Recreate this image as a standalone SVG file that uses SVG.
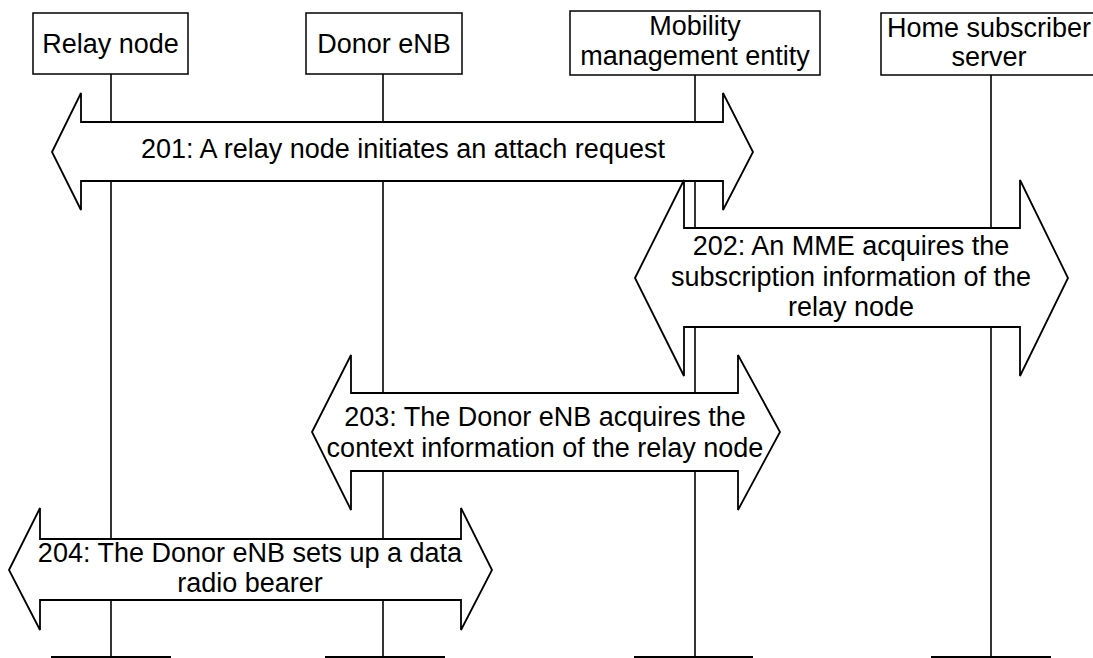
<svg xmlns="http://www.w3.org/2000/svg" width="1093" height="658" viewBox="0 0 1093 658">
<style>
.box{fill:#fff;stroke:#000;stroke-width:1.5}
.life{stroke:#000;stroke-width:1.6;fill:none}
.tick{stroke:#000;stroke-width:2.2;fill:none}
.arr{fill:#fff;stroke:#000;stroke-width:1.8;stroke-linejoin:miter}
text{font-family:"Liberation Sans",Arial,sans-serif;font-size:27px;fill:#000;text-anchor:middle}
</style>
<rect width="1093" height="658" fill="#fff"/>
<g id="lifelines">
<line class="life" x1="111" y1="74" x2="111" y2="657"/>
<line class="life" x1="383" y1="74" x2="383" y2="657"/>
<line class="life" x1="695" y1="75" x2="695" y2="657"/>
<line class="life" x1="991" y1="75" x2="991" y2="657"/>
<line class="tick" x1="51" y1="657" x2="171" y2="657"/>
<line class="tick" x1="325" y1="657" x2="445" y2="657"/>
<line class="tick" x1="634" y1="657" x2="753" y2="657"/>
<line class="tick" x1="931" y1="657" x2="1051" y2="657"/>
</g>
<g id="node-relay">
<rect class="box" x="33" y="13" width="155" height="61"/>
<text x="110.5" y="53">Relay node</text>
</g>
<g id="node-donor">
<rect class="box" x="306" y="13" width="156" height="61"/>
<text x="384" y="53">Donor eNB</text>
</g>
<g id="node-mme">
<rect class="box" x="570" y="11" width="250" height="64"/>
<text x="695" y="35">Mobility</text>
<text x="695" y="65">management entity</text>
</g>
<g id="node-hss">
<rect class="box" x="881" y="13" width="220" height="62"/>
<text x="989" y="37">Home subscriber</text>
<text x="989" y="66">server</text>
</g>
<g id="connectors">
<g id="msg-201">
<path class="arr" d="M52,152 L81,93 L81,122 L723,122 L723,93 L753,152 L723,210 L723,181 L81,181 L81,210 Z"/>
<text x="403" y="158">201: A relay node initiates an attach request</text>
</g>
<g id="msg-202">
<path class="arr" d="M635,278 L684,180 L684,228 L1020,228 L1020,180 L1068,278 L1020,376 L1020,327 L684,327 L684,376 Z"/>
<text x="851" y="255">202: An MME acquires the</text>
<text x="851" y="286">subscription information of the</text>
<text x="851" y="316">relay node</text>
</g>
<g id="msg-203">
<path class="arr" d="M312,432 L351,355 L351,393 L738,393 L738,355 L780,432 L738,510 L738,471 L351,471 L351,510 Z"/>
<text x="545" y="426">203: The Donor eNB acquires the</text>
<text x="545" y="457">context information of the relay node</text>
</g>
<g id="msg-204">
<path class="arr" d="M9,570 L40,508 L40,539 L461,539 L461,508 L492,570 L461,630 L461,600 L40,600 L40,630 Z"/>
<text x="250" y="562">204: The Donor eNB sets up a data</text>
<text x="250" y="592">radio bearer</text>
</g>
</g>
</svg>
